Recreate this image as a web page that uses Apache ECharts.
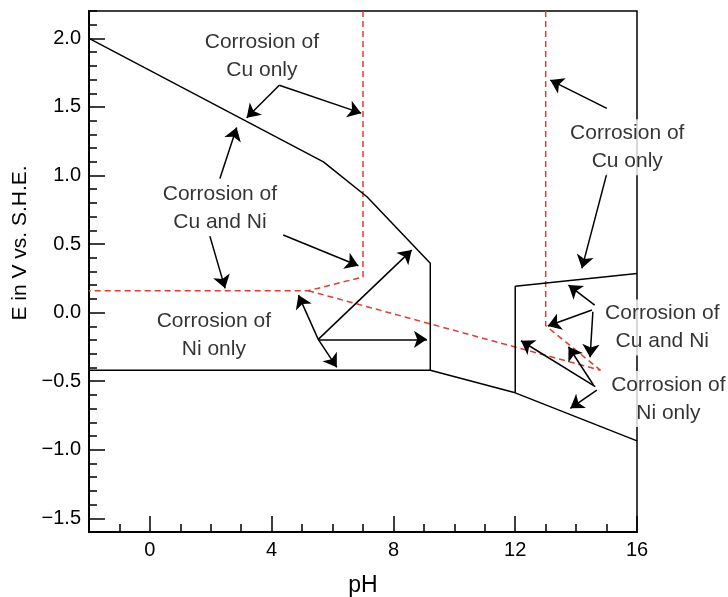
<!DOCTYPE html>
<html>
<head>
<meta charset="utf-8">
<title>Cu-Ni E-pH</title>
<script src="https://cdn.jsdelivr.net/npm/echarts@6/dist/echarts.min.js"></script>
<style>
  html, body { margin: 0; padding: 0; background: #fff; }
  #main { width: 728px; height: 597px; }
</style>
</head>
<body>
<div id="main"></div>
<script>
// tick labels
var phTicks = [0, 4, 8, 12, 16]
var eTicks = [-1.5, -1.0, -0.5, 0.0, 0.5, 1.0, 1.5, 2.0]

// black boundaries [pH, E]
var upperLine = [[-2, 2.0], [5.7, 1.1], [7.13, 0.845], [9.21, 0.36], [9.21, -0.42]]
var lowerLine = [[-2, -0.42], [9.21, -0.42], [12, -0.585], [16, -0.935]]
var rightBox = [[12, -0.585], [12, 0.193], [16, 0.286]]

// red dashed boundaries
var redLeft = [[7, 2.2], [7, 0.26], [5.2, 0.16], [-2, 0.16]]
var redSlope = [[5.2, 0.16], [14.8, -0.42]]
var redRight = [[13, 2.2], [13, -0.095], [14.8, -0.42]]

// annotation arrows: [from, to]
var arrows = [
  [[4.25, 1.659], [3.18, 1.421]],
  [[4.25, 1.659], [6.94, 1.455]],
  [[2.30, 0.979], [2.85, 1.351]],
  [[1.97, 0.558], [2.47, 0.177]],
  [[4.38, 0.566], [6.85, 0.342]],
  [[5.53, -0.195], [4.88, 0.128]],
  [[5.53, -0.195], [8.60, 0.456]],
  [[5.53, -0.195], [9.10, -0.195]],
  [[5.53, -0.195], [6.14, -0.399]],
  [[15.01, 1.490], [13.15, 1.696]],
  [[15.01, 1.016], [14.19, 0.323]],
  [[14.61, 0.055], [13.75, 0.201]],
  [[14.52, 0.019], [13.07, -0.098]],
  [[14.55, 0.006], [14.46, -0.326]],
  [[14.63, -0.540], [12.19, -0.205]],
  [[14.57, -0.528], [13.75, -0.249]],
  [[14.68, -0.565], [13.81, -0.698]]
]

// region labels
var labelText = [
  'Corrosion of\nCu only',
  'Corrosion of\nCu and Ni',
  'Corrosion of\nNi only',
  'Corrosion of\nCu only',
  'Corrosion of\nCu and Ni',
  'Corrosion of\nNi only'
]
var labelPos = [[3.68, 1.871], [2.30, 0.763], [2.10, -0.164], [15.68, 1.207], [16.83, -0.109], [17.03, -0.630]]

var font = 'Liberation Sans, Arial, Helvetica, sans-serif'
var ink = '#000'
var red = '#e23b32'

var chart = echarts.init(document.getElementById('main'))

function blackLine(data) {
  return {
    type: 'line', data: data, showSymbol: false, symbol: 'none', silent: true,
    lineStyle: { color: ink, width: 1.5 }, z: 3
  }
}
function redLine(data) {
  return {
    type: 'line', data: data, showSymbol: false, symbol: 'none', silent: true,
    lineStyle: { color: red, width: 1.5, type: [6, 4] }, z: 2
  }
}

var option = {
  animation: false,
  backgroundColor: '#fff',
  grid: {
    left: 89, right: 91, top: 11, bottom: 65, outerBoundsMode: 'none', containLabel: false,
    show: true, borderColor: ink, borderWidth: 1.5, backgroundColor: 'transparent'
  },
  xAxis: [
    {
      type: 'value', min: -2, max: 16,
      axisLine: { show: true, onZero: false, lineStyle: { color: ink, width: 2 } },
      axisTick: { show: true, inside: true, length: 16, customValues: phTicks, lineStyle: { color: ink, width: 1.5 } },
      axisLabel: { customValues: phTicks, fontSize: 20, fontFamily: font, color: ink, margin: 8 },
      splitLine: { show: false },
      name: 'pH', nameLocation: 'middle', nameGap: 42,
      nameTextStyle: { fontSize: 23, fontFamily: font, color: ink }
    },
    {
      type: 'value', min: -2, max: 16, interval: 1, position: 'bottom',
      axisLine: { show: false, onZero: false },
      axisTick: { show: true, inside: true, length: 8, lineStyle: { color: ink, width: 1.5 } },
      axisLabel: { show: false },
      splitLine: { show: false }
    }
  ],
  yAxis: [
    {
      type: 'value', min: -1.6, max: 2.2,
      axisLine: { show: true, onZero: false, lineStyle: { color: ink, width: 2 } },
      axisTick: { show: true, inside: true, length: 16, customValues: eTicks, lineStyle: { color: ink, width: 1.5 } },
      axisLabel: {
        customValues: eTicks, fontSize: 20, fontFamily: font, color: ink, margin: 8,
        formatter: function (v) { return v.toFixed(1).replace('-', '\u2212') }
      },
      splitLine: { show: false }
    },
    {
      type: 'value', min: -1.6, max: 2.2, interval: 0.1, position: 'left',
      axisLine: { show: false, onZero: false },
      axisTick: { show: true, inside: true, length: 8, lineStyle: { color: ink, width: 1.5 } },
      axisLabel: { show: false },
      splitLine: { show: false }
    }
  ],
  graphic: [{
    type: 'text', x: 20, y: 243, rotation: Math.PI / 2,
    style: {
      text: 'E in V vs. S.H.E.', fontSize: 21, fontFamily: font, fill: ink,
      align: 'center', verticalAlign: 'middle', textAlign: 'center', textVerticalAlign: 'middle'
    }
  }],
  series: [
    redLine(redLeft),
    redLine(redSlope),
    redLine(redRight),
    blackLine(upperLine),
    blackLine(lowerLine),
    blackLine(rightBox),
    {
      type: 'lines', coordinateSystem: 'cartesian2d', silent: true, z: 4,
      symbol: ['none', 'arrow'], symbolSize: 13,
      lineStyle: { color: ink, width: 1.5, opacity: 1 },
      data: arrows.map(function (a) { return { coords: a } })
    },
    {
      type: 'scatter', clip: false, silent: true, symbolSize: 0, z: 10,
      data: labelPos.map(function (p, i) { return [p[0], p[1], labelText[i]] }),
      label: {
        show: true, position: 'inside',
        formatter: function (p) { return p.value[2] },
        fontSize: 21, lineHeight: 28, fontFamily: font, color: ink,
        backgroundColor: '#fff', padding: [0, 2]
      }
    }
  ]
}

chart.setOption(option)
window.addEventListener('resize', function () { chart.resize() })
</script>
</body>
</html>
